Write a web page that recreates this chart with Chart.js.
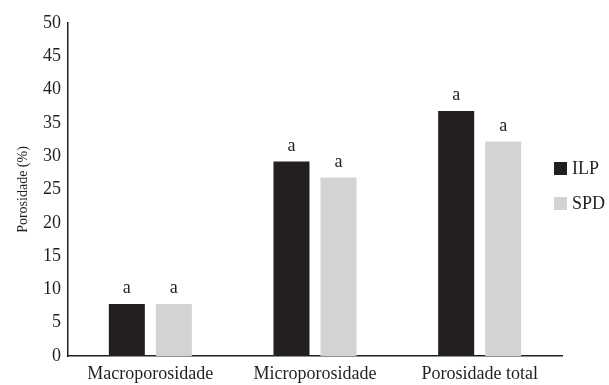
<!DOCTYPE html>
<html lang="pt">
<head>
  <meta charset="UTF-8">
  <title>Porosidade</title>
  <script src="https://cdn.jsdelivr.net/npm/chart.js"></script>
  <style>
    html, body { margin: 0; padding: 0; background: #fff; }
    #wrap { width: 609px; height: 385px; position: relative; }
  </style>
</head>
<body>
  <div id="wrap"><canvas id="porosChart"></canvas></div>

  <script>
    // data
    const categories = ['Macroporosidade', 'Microporosidade', 'Porosidade total'];
    const ilpValues = [7.8, 29.2, 36.8];
    const spdValues = [7.8, 26.8, 32.2];
    const ilpLetters = ['a', 'a', 'a'];
    const spdLetters = ['a', 'a', 'a'];
    const yTicks = [0, 5, 10, 15, 20, 25, 30, 35, 40, 45, 50];

    const serif = "'Liberation Serif', 'Times New Roman', serif";

    // letters above each bar
    const letterPlugin = {
      id: 'letters',
      afterDatasetsDraw(chart) {
        const ctx = chart.ctx;
        ctx.save();
        ctx.font = '18px ' + serif;
        ctx.fillStyle = '#231f20';
        ctx.textAlign = 'center';
        ctx.textBaseline = 'alphabetic';
        chart.data.datasets.forEach((ds, i) => {
          chart.getDatasetMeta(i).data.forEach((bar, j) => {
            ctx.fillText(ds.letters[j], bar.x, bar.y - 11);
          });
        });
        ctx.restore();
      }
    };

    // legend on the right, next to the plot
    const sideLegend = {
      id: 'sideLegend',
      afterDraw(chart) {
        const ctx = chart.ctx;
        ctx.save();
        ctx.font = '18px ' + serif;
        ctx.textBaseline = 'middle';
        chart.data.datasets.forEach((ds, i) => {
          const y = 162 + i * 35;
          ctx.fillStyle = ds.backgroundColor;
          ctx.fillRect(554, y, 13, 13);
          ctx.fillStyle = '#231f20';
          ctx.fillText(ds.label, 572, y + 7);
        });
        ctx.restore();
      }
    };

    new Chart(document.getElementById('porosChart'), {
      type: 'bar',
      data: {
        labels: categories,
        datasets: [
          { label: 'ILP', data: ilpValues, letters: ilpLetters, backgroundColor: '#231f20' },
          { label: 'SPD', data: spdValues, letters: spdLetters, backgroundColor: '#d1d3d4' }
        ]
      },
      options: {
        responsive: true,
        maintainAspectRatio: false,
        animation: false,
        categoryPercentage: 0.571,
        barPercentage: 0.766,
        layout: { padding: { top: 23, right: 47, left: 0, bottom: 0 } },
        plugins: {
          legend: { display: false },
          tooltip: { enabled: false }
        },
        scales: {
          x: {
            grid: { display: false, drawTicks: false },
            border: { color: '#231f20', width: 1.5 },
            ticks: { color: '#231f20', font: { family: serif, size: 18 }, padding: 7, maxRotation: 0 },
            afterFit(scale) { scale.height = 29; }
          },
          y: {
            min: 0,
            max: 50,
            afterBuildTicks(scale) { scale.ticks = yTicks.map(v => ({ value: v })); },
            grid: { display: false, drawTicks: false },
            border: { color: '#231f20', width: 1.5 },
            ticks: { color: '#231f20', font: { family: serif, size: 18 }, padding: 7 },
            title: {
              display: true,
              text: 'Porosidade (%)',
              color: '#231f20',
              font: { family: serif, size: 14 },
              padding: { top: 15, bottom: 0 }
            },
            afterFit(scale) { scale.width = 68; }
          }
        }
      },
      plugins: [letterPlugin, sideLegend]
    });
  </script>
</body>
</html>
